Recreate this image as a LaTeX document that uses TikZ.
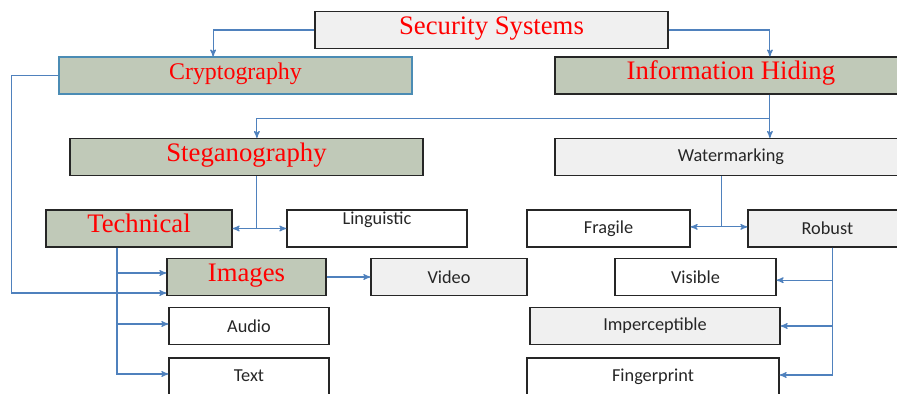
\documentclass[tikz,border=0pt]{standalone}
\usepackage{fontspec}
\setmainfont{Liberation Serif}
\newfontfamily\calibri{Carlito}
\usepackage{tikz}
\usetikzlibrary{arrows}
\definecolor{cred}{rgb}{1, 0, 0}
\definecolor{cgreen}{RGB}{192, 201, 184}
\definecolor{cgray}{RGB}{240, 240, 240}
\definecolor{cblue}{RGB}{79, 129, 189}
\definecolor{cteal}{RGB}{75, 140, 180}
\definecolor{cline}{RGB}{38, 38, 38}

\begin{document}
\begin{tikzpicture}[x=0.025cm,y=-0.025cm,>=stealth',
  box/.style={rectangle,draw=cline,line width=0.9pt,inner sep=0pt,minimum height=0.92cm},
  red node/.style={box,fill=cgreen,text=cred,text height=13pt,text depth=7pt,font=\fontsize{19}{20}\selectfont},
  gray node/.style={box,fill=cgray,text=cline,font=\calibri\fontsize{13}{14}\selectfont},
  white node/.style={box,fill=white,text=cline,font=\calibri\fontsize{13}{14}\selectfont},
  link/.style={->,draw=cblue,line width=0.8pt}]
  \useasboundingbox (0,0) rectangle (897,394);

  \node[red node,fill=cgray,minimum width=8.825cm] (sec) at (491.5,30) {Security Systems};
  \node[red node,draw=cteal,minimum width=8.825cm,font=\fontsize{17}{18}\selectfont] (crypto) at (235.5,75.5) {Cryptography};
  \node[red node,minimum width=9.125cm] (info) at (737.5,75.5) {\hspace*{-0.33cm}Information Hiding};
  \node[red node,minimum width=8.825cm] (steg) at (246.5,157) {Steganography};
  \node[gray node,minimum width=9.125cm] (wm) at (737.5,157) {\hspace*{-0.33cm}Watermarking};
  \node[red node,minimum width=4.65cm] (tech) at (139,228.5) {Technical};
  \node[white node,minimum width=4.5cm,text height=9.9pt,text depth=16pt] (ling) at (377,228.5) {Linguistic};
  \node[white node,minimum width=4.075cm] (frag) at (608.5,228.5) {Fragile};
  \node[gray node,minimum width=4.3cm] (rob) at (834,228.5) {\hspace*{-0.33cm}Robust};
  \node[red node,minimum width=3.975cm] (img) at (246.5,277) {Images};
  \node[gray node,minimum width=3.9cm] (video) at (449,277) {Video};
  \node[white node,minimum width=4.025cm] (vis) at (695.5,277) {Visible};
  \node[white node,minimum width=4cm] (audio) at (249,326) {Audio};
  \node[gray node,minimum width=6.25cm] (imp) at (655,326) {Imperceptible};
  \node[white node,minimum width=4cm,minimum height=1.05cm,text height=8pt,text depth=4pt] (text) at (249,379) {Text};
  \node[white node,minimum width=6.3cm,minimum height=1.05cm,text height=8pt,text depth=4pt] (fp) at (653,379) {Fingerprint};

  \draw[link] (sec.west) -| ([xshift=-0.56cm]crypto.north);
  \draw[link] (sec.east) -| ([xshift=0.81cm]info.north);
  \draw[link] ([xshift=0.81cm]info.south) -- ([xshift=0.81cm]wm.north);
  \draw[link] ([xshift=0.81cm]info.south) ++(0,24) -| ([xshift=0.26cm]steg.north);
  \draw[link] ([xshift=0.26cm]steg.south) |- (tech.east);
  \draw[link] ([xshift=0.26cm]steg.south) |- (ling.west);
  \draw[link] ([xshift=-0.41cm]wm.south) |- ([yshift=0.04cm]frag.east);
  \draw[link] ([xshift=-0.41cm]wm.south) |- ([yshift=0.04cm]rob.west);
  \draw[link] (crypto.west) -- ++(-47,0) |- ([yshift=-0.4cm]img.west);
  \draw[link] ([xshift=-0.55cm]tech.south) |- ([yshift=0.1cm]img.west);
  \draw[link] ([xshift=-0.55cm]tech.south) |- ([yshift=0.05cm]audio.west);
  \draw[link] ([xshift=-0.55cm]tech.south) |- ([yshift=0.125cm]text.west);
  \draw[link] (img.east) -- (video.west);
  \draw[link] ([xshift=-0.03cm]rob.south) |- ([yshift=-0.08cm]vis.east);
  \draw[link] ([xshift=-0.03cm]rob.south) |- (imp.east);
  \draw[link] ([xshift=-0.03cm]rob.south) |- ([yshift=0.1cm]fp.east);
\end{tikzpicture}
\end{document}
